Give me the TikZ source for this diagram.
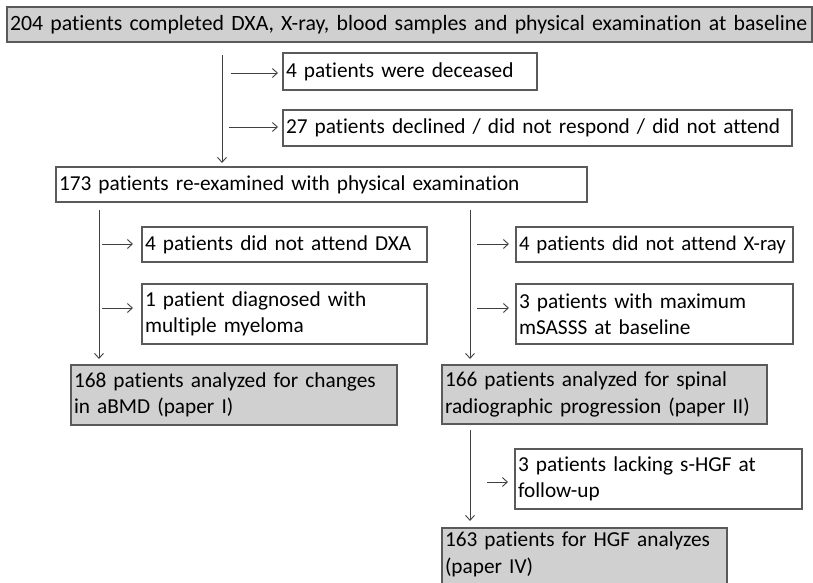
\documentclass[tikz,border=0pt]{standalone}
\usepackage{fontspec}
\setmainfont{Carlito}[Ligatures=NoCommon]
\usetikzlibrary{arrows.meta}
\usetikzlibrary{positioning}

\definecolor{boxline}{HTML}{5A5A5A}
\definecolor{boxfill}{HTML}{D0D0D0}

\begin{document}
\begin{tikzpicture}[x=1pt, y=-1pt, every node/.style={draw=boxline, line width=1.2pt, anchor=north west, align=left, inner xsep=3pt, inner ysep=0pt, outer sep=0pt, font=\fontsize{21.3}{26.5}\selectfont}]
 \tikzstyle{flow}=[draw=black!75, line width=0.9pt, -{Straight Barb[length=5pt,width=9pt]}];
 \tikzstyle{side}=[flow, shorten >=5pt];
 \tikzstyle{res}=[fill=boxfill];
\useasboundingbox (0,0) rectangle (813,583);
\clip (0,0) rectangle (813,583);

% boxes
\node[res, text width=799pt, minimum height=35pt, font=\fontsize{21.8}{26.5}\selectfont] (base) at (7,7) {\mbox{204 patients completed DXA, X-ray, blood samples and physical examination at baseline}};
\node[text width=248pt, minimum height=37pt] (dead) at (283,53) {4 patients were deceased};
\node[text width=503pt, minimum height=36pt] (declined) at (283,110) {\mbox{27 patients declined / did not respond / did not attend}};
\node[text width=525pt, minimum height=35pt] (reexam) at (56,167) {\mbox{173 patients re-examined with physical examination}};
\node[text width=279pt, minimum height=35pt] (nodxa) at (142,227) {4 patients did not attend DXA};
\node[text width=279pt, minimum height=60pt] (myeloma) at (142,284) {1 patient diagnosed with\\multiple myeloma};
\node[res, text width=320pt, minimum height=60pt] (bmd) at (71,365) {168 patients analyzed for changes\\in aBMD (paper I)};
\node[text width=271pt, minimum height=35pt, font=\fontsize{20.8}{26.5}\selectfont] (noxray) at (516,227) {\mbox{4 patients did not attend X-ray}};
\node[text width=271pt, minimum height=60pt] (maxsasss) at (516,284) {3 patients with maximum\\mSASSS at baseline};
\node[res, text width=319pt, minimum height=59pt] (spinal) at (442,365) {166 patients analyzed for spinal\\radiographic progression (paper II)};
\node[text width=281pt, minimum height=60pt] (nohgf) at (515,449) {3 patients lacking s-HGF at\\follow-up};
\node[res, text width=279pt, inner ysep=4pt, text depth=50pt] (hgf) at (442,528) {163 patients for HGF analyzes\\(paper IV)};

% connectors
\coordinate (t0) at (222,55);
\coordinate (t1) at (222,163);
\coordinate (ta) at (231,73);
\coordinate (tb) at (229,127);
\draw[flow] (t0) -- (t1);
\draw[side] (ta) -- (ta -| dead.west);
\draw[side] (tb) -- (tb -| declined.west);

\coordinate (l0) at (99,210);
\coordinate (l1) at (99,359);
\coordinate (la) at (102,244);
\coordinate (lb) at (102,308);
\draw[flow] (l0) -- (l1);
\draw[side, shorten >=9pt] (la) -- (la -| nodxa.west);
\draw[side, shorten >=9pt] (lb) -- (lb -| myeloma.west);

\coordinate (r0) at (470,210);
\coordinate (r1) at (470,359);
\coordinate (ra) at (477,244);
\coordinate (rb) at (477,308);
\draw[flow] (r0) -- (r1);
\draw[side, shorten >=7pt] (ra) -- (ra -| noxray.west);
\draw[side, shorten >=7pt] (rb) -- (rb -| maxsasss.west);

\coordinate (h0) at (470,430);
\coordinate (h1) at (470,521);
\coordinate (ha) at (487,482);
\draw[flow] (h0) -- (h1);
\draw[side, shorten >=7pt] (ha) -- (ha -| nohgf.west);

\end{tikzpicture}
\end{document}
